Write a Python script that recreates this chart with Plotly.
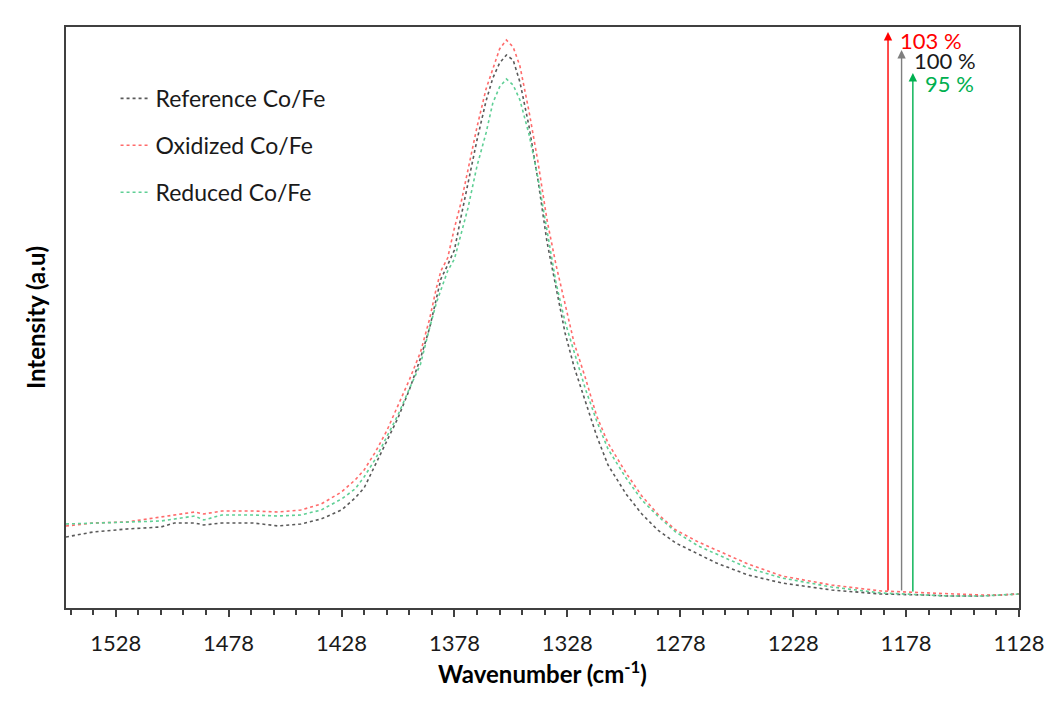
import plotly.graph_objects as go

wavenumber = [1550, 1538, 1523, 1508, 1502, 1493, 1489, 1481, 1467, 1456, 1446, 1437, 1428, 1422,
              1418, 1413, 1408, 1403, 1398, 1393, 1389, 1386, 1384, 1381, 1378, 1375, 1372, 1368,
              1364, 1361, 1358, 1355, 1352, 1349, 1345, 1341, 1337, 1333, 1329, 1325, 1320, 1315,
              1310, 1302, 1295, 1288, 1280, 1270, 1262, 1248, 1233, 1211, 1189, 1170, 1159, 1145,
              1137, 1128]

reference = [71, 76, 79, 81, 85, 85, 83, 85, 85, 82, 84, 89, 98, 110,
             120, 143, 167, 190, 218, 250, 280, 310, 329, 343, 358, 392, 426, 468,
             507, 530, 545, 553, 548, 526, 482, 428, 366, 320, 275, 241, 206, 172,
             143, 114, 94, 78, 65, 54, 45, 33, 25, 18, 14, 13, 12, 12,
             13, 14]

oxidized = [82, 85, 86, 91, 93, 96, 94, 97, 97, 96, 98, 104, 116, 128,
            138, 156, 177, 202, 228, 256, 289, 320, 337, 350, 380, 406, 439, 481,
            519, 540, 559, 568, 561, 542, 497, 446, 388, 343, 303, 265, 230, 192,
            165, 135, 112, 94, 78, 66, 58, 44, 32, 23, 17, 15, 14, 13,
            13, 14]

reduced = [84, 85, 86, 87, 89, 92, 88, 93, 93, 92, 93, 98, 109, 119,
           131, 149, 171, 193, 219, 244, 280, 305, 318, 337, 349, 374, 400, 442,
           475, 505, 521, 529, 523, 508, 474, 430, 379, 325, 286, 256, 219, 187,
           159, 130, 108, 92, 76, 62, 54, 40, 30, 21, 15, 13, 12, 12,
           13, 14]

series_names = ["Reference Co/Fe", "Oxidized Co/Fe", "Reduced Co/Fe"]
series_colors = ["#5a5a5a", "#ff6b6b", "#5fcf95"]

# peak-ratio arrows
arrow_x = [1186, 1180, 1175]
arrow_top = [576, 558, 535]
arrow_base = [16, 16, 15]
arrow_colors = ["#ff0000", "#7f7f7f", "#00b050"]
label_x = [1181.5, 1175.6, 1170.3]
label_y = [568, 548, 525]
label_text = ["103 %", "100 %", "95 %"]
label_colors = ["#ff0000", "#1a1a1a", "#00b050"]

tick_vals = [1528, 1478, 1428, 1378, 1328, 1278, 1228, 1178, 1128]

font_family = "Lato"

fig = go.Figure()
for i, ys in enumerate([reference, oxidized, reduced]):
    fig.add_trace(go.Scatter(x=wavenumber, y=ys, mode="lines", name=series_names[i],
                             legendgroup=series_names[i],
                             line=dict(color=series_colors[i], width=1.6, dash="dot")))

for i in range(3):
    fig.add_annotation(x=arrow_x[i], y=arrow_top[i], ax=arrow_x[i], ay=arrow_base[i],
                       xref="x", yref="y", axref="x", ayref="y", text="",
                       showarrow=True, arrowhead=2, arrowsize=1.2, arrowwidth=1.4,
                       arrowcolor=arrow_colors[i])
    fig.add_annotation(x=label_x[i], y=label_y[i], xref="x", yref="y", text=label_text[i],
                       showarrow=False, xanchor="left", yanchor="middle",
                       font=dict(family=font_family, size=22, color=label_colors[i]))

fig.update_xaxes(range=[1550, 1128], tickvals=tick_vals, ticktext=[str(v) for v in tick_vals],
                 ticks="outside", ticklen=7, tickwidth=1.5, tickcolor="#404040",
                 minor=dict(dtick=10, tick0=1128, ticks="outside", ticklen=5, tickwidth=1.5,
                            tickcolor="#404040", showgrid=False),
                 showline=True, mirror=True, linecolor="#404040", linewidth=2,
                 showgrid=False, zeroline=False, ticklabelstandoff=8,
                 tickfont=dict(family=font_family, size=22, color="#1a1a1a"),
                 title=dict(text="<b>Wavenumber (cm<sup>-1</sup>)</b>", standoff=10,
                            font=dict(family=font_family, size=24, color="#000000")))
fig.update_yaxes(range=[0, 581], showticklabels=False, ticks="",
                 showline=True, mirror=True, linecolor="#404040", linewidth=2,
                 showgrid=False, zeroline=False,
                 title=dict(text="<b>Intensity (a.u)</b>", standoff=12,
                            font=dict(family=font_family, size=24, color="#000000")))

fig.update_layout(width=1063, height=717, plot_bgcolor="white", paper_bgcolor="white",
                  margin=dict(l=58, r=52, t=19, b=117),
                  legend=dict(x=0.052, y=0.914, xanchor="left", yanchor="top",
                              bgcolor="rgba(0,0,0,0)", tracegroupgap=14,
                              font=dict(family=font_family, size=23, color="#1a1a1a")))

fig.write_html("out.html")
